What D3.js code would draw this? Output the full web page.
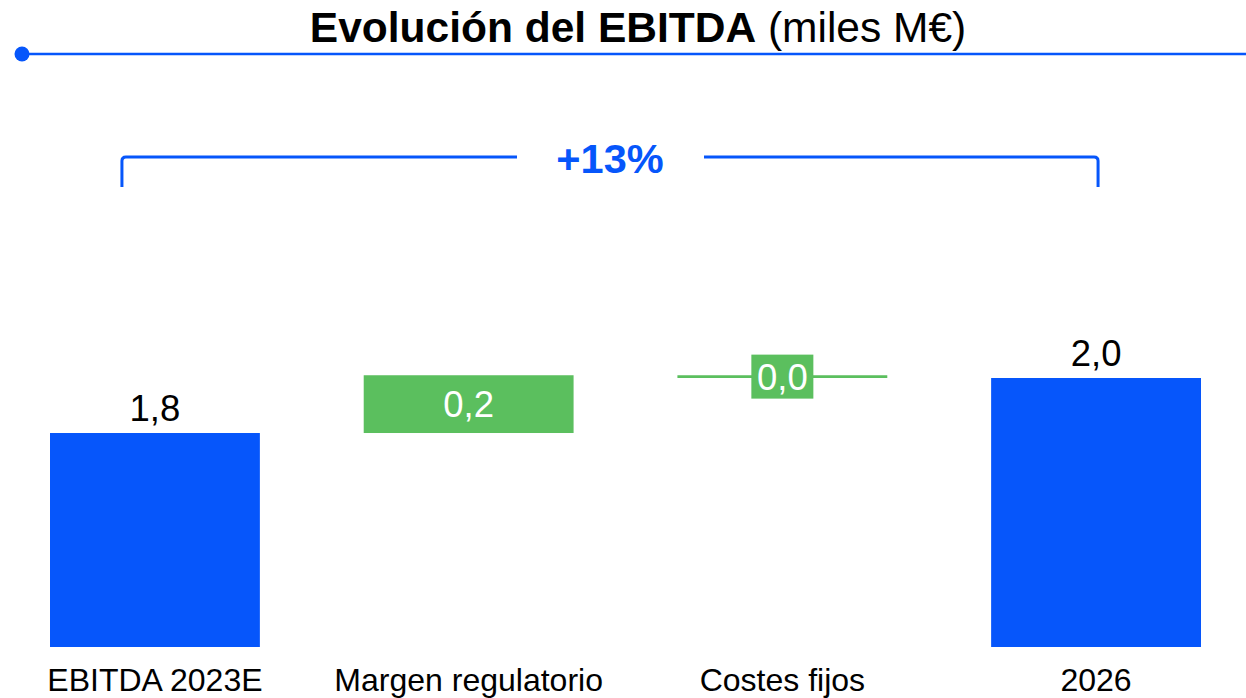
<!DOCTYPE html>
<html>
<head>
<meta charset="utf-8">
<script src="https://cdn.jsdelivr.net/npm/d3@7"></script>
<style>
  html, body { margin: 0; padding: 0; background: #fff; }
  svg { display: block; font-family: "Liberation Sans", Arial, sans-serif; }
</style>
</head>
<body>
<svg id="chart" width="1246" height="698"></svg>
<script>
// ---- data ----
const categories = ["EBITDA 2023E", "Margen regulatorio", "Costes fijos", "2026"];
const kinds = ["total", "delta", "delta", "total"];
const values = [1.80, 0.21, -0.01, 2.00];
const valueLabels = ["1,8", "0,2", "0,0", "2,0"];
const growthLabel = "+13%";
const titleBold = "Evolución del EBITDA";
const titleNormal = " (miles M€)";

// ---- style ----
const BLUE = "#0656fb";
const GREEN = "#5bbf5e";

const svg = d3.select("#chart");

// build waterfall segments
let running = 0;
const segs = categories.map((c, i) => {
  let y0, y1;
  if (kinds[i] === "total") { y0 = null; y1 = values[i]; running = values[i]; }
  else { y0 = running; y1 = running + values[i]; running = y1; }
  return { cat: c, kind: kinds[i], v: values[i], y0, y1, label: valueLabels[i] };
});

const x = d3.scaleBand().domain(categories).range([50, 1201]).paddingInner(0.331).paddingOuter(0);
// broken value axis (does not start at zero)
const y = d3.scaleLinear().domain([1.022, 2.0]).range([647, 378]);

// title
const title = svg.append("text").attr("x", 638).attr("y", 42).attr("text-anchor", "middle")
  .attr("font-size", 42.5).attr("fill", "#000");
title.append("tspan").attr("font-weight", "bold").text(titleBold);
title.append("tspan").attr("font-weight", "normal").text(titleNormal);

// title rule with dot
svg.append("line").attr("x1", 22).attr("x2", 1246).attr("y1", 54).attr("y2", 54)
  .attr("stroke", BLUE).attr("stroke-width", 2.5);
svg.append("circle").attr("cx", 22).attr("cy", 54).attr("r", 7.5).attr("fill", BLUE);

// bracket
const bx0 = x(categories[0]) + x.bandwidth() / 2 - 33;
const bx1 = x(categories[3]) + x.bandwidth() / 2 + 2;
const gapL = 517, gapR = 704, by = 157, bBottom = 187;
svg.append("path")
  .attr("d", `M${bx0},${bBottom} V${by + 4} Q${bx0},${by} ${bx0 + 4},${by} H${gapL} M${gapR},${by} H${bx1 - 4} Q${bx1},${by} ${bx1},${by + 4} V${bBottom}`)
  .attr("fill", "none").attr("stroke", BLUE).attr("stroke-width", 3);
svg.append("text").attr("x", 610).attr("y", 173).attr("text-anchor", "middle")
  .attr("font-size", 41.5).attr("font-weight", "bold").attr("fill", BLUE).text(growthLabel);

// bars
const g = svg.append("g");
segs.forEach(s => {
  const bx = x(s.cat), bw = x.bandwidth(), cx = bx + bw / 2;
  if (s.kind === "total") {
    g.append("rect").attr("x", bx).attr("width", bw)
      .attr("y", y(s.y1)).attr("height", y.range()[0] - y(s.y1)).attr("fill", BLUE);
    g.append("text").attr("x", cx).attr("y", y(s.y1) - 12).attr("text-anchor", "middle")
      .attr("font-size", 36.5).attr("fill", "#000").text(s.label);
  } else {
    const top = y(Math.max(s.y0, s.y1)), bot = y(Math.min(s.y0, s.y1));
    g.append("rect").attr("x", bx).attr("width", bw)
      .attr("y", top).attr("height", Math.max(bot - top, 2.5)).attr("fill", GREEN);
    const mid = (top + bot) / 2;
    if (bot - top < 44) {
      g.append("rect").attr("x", cx - 31).attr("y", mid - 22).attr("width", 62).attr("height", 44).attr("fill", GREEN);
    }
    g.append("text").attr("x", cx).attr("y", mid + 13).attr("text-anchor", "middle")
      .attr("font-size", 36.5).attr("fill", "#fff").text(s.label);
  }
  g.append("text").attr("x", cx).attr("y", 691).attr("text-anchor", "middle")
    .attr("font-size", 32).attr("fill", "#000").text(s.cat);
});
</script>
</body>
</html>
